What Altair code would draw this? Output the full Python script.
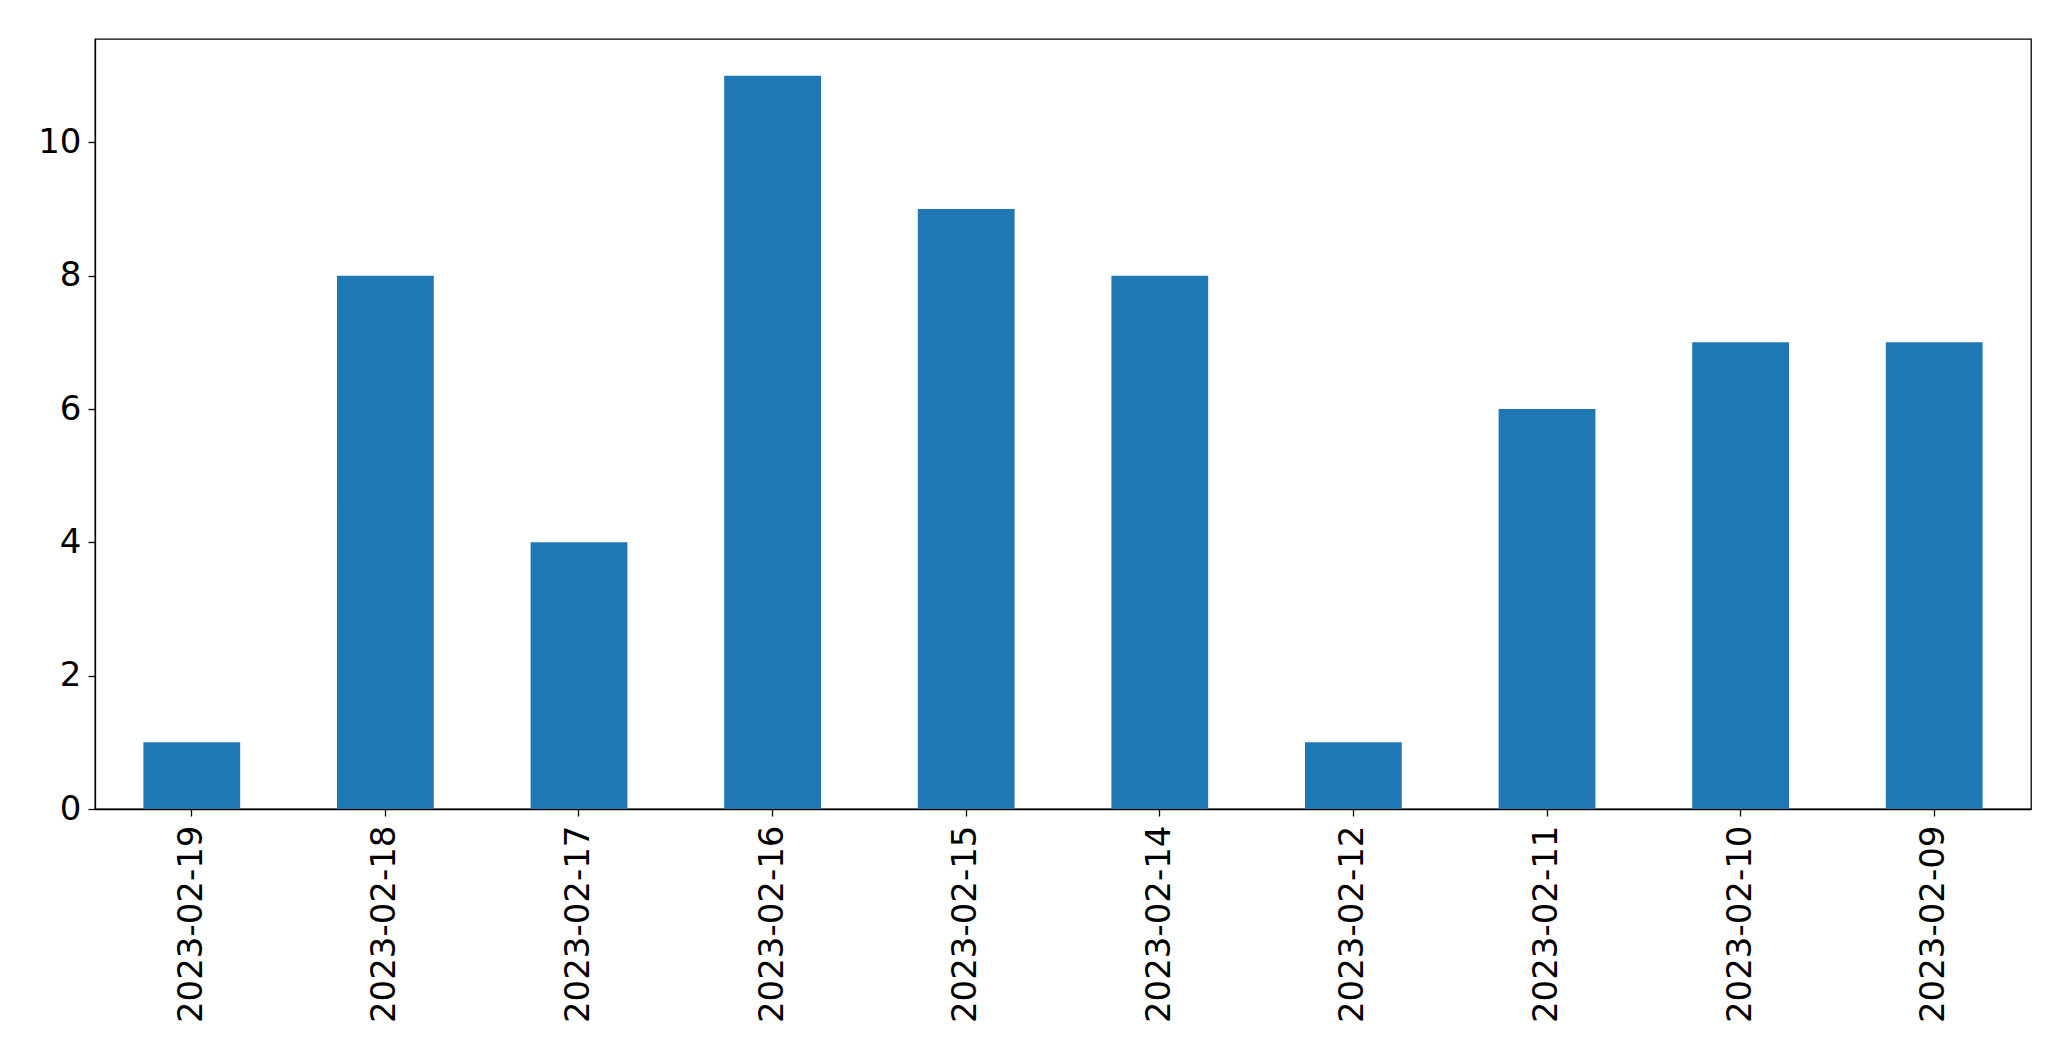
import altair as alt
import pandas as pd

dates = ["2023-02-19", "2023-02-18", "2023-02-17", "2023-02-16", "2023-02-15",
         "2023-02-14", "2023-02-12", "2023-02-11", "2023-02-10", "2023-02-09"]
counts = [1, 8, 4, 11, 9, 8, 1, 6, 7, 7]
y_ticks = [0, 2, 4, 6, 8, 10]

df = pd.DataFrame({"date": dates, "count": counts})

chart = alt.Chart(df).mark_bar(color="#1f77b4").encode(
    x=alt.X("date:N", sort=dates,
            scale=alt.Scale(paddingInner=0.5, paddingOuter=0.25),
            axis=alt.Axis(title=None, labelAngle=-90, labelFontSize=34,
                          labelFont="DejaVu Sans", labelColor="black", labelLimit=0,
                          tickColor="black", tickSize=7, tickWidth=1.3,
                          labelPadding=9, domainColor="black", domainWidth=1.3)),
    y=alt.Y("count:Q", scale=alt.Scale(domain=[0, 11.55], nice=False, zero=True),
            axis=alt.Axis(title=None, values=y_ticks, grid=False, labelFontSize=34,
                          labelFont="DejaVu Sans", labelColor="black",
                          tickColor="black", tickSize=7, tickWidth=1.3,
                          labelPadding=7, domainColor="black", domainWidth=1.3)),
).properties(
    width=1936, height=770,
    autosize=alt.AutoSizeParams(type="none"),
    padding={"left": 87, "top": 31, "right": 30, "bottom": 240},
).configure_view(
    stroke="black", strokeWidth=1.3
)

chart.save("out.html", embed_options={"renderer": "svg", "actions": False})
